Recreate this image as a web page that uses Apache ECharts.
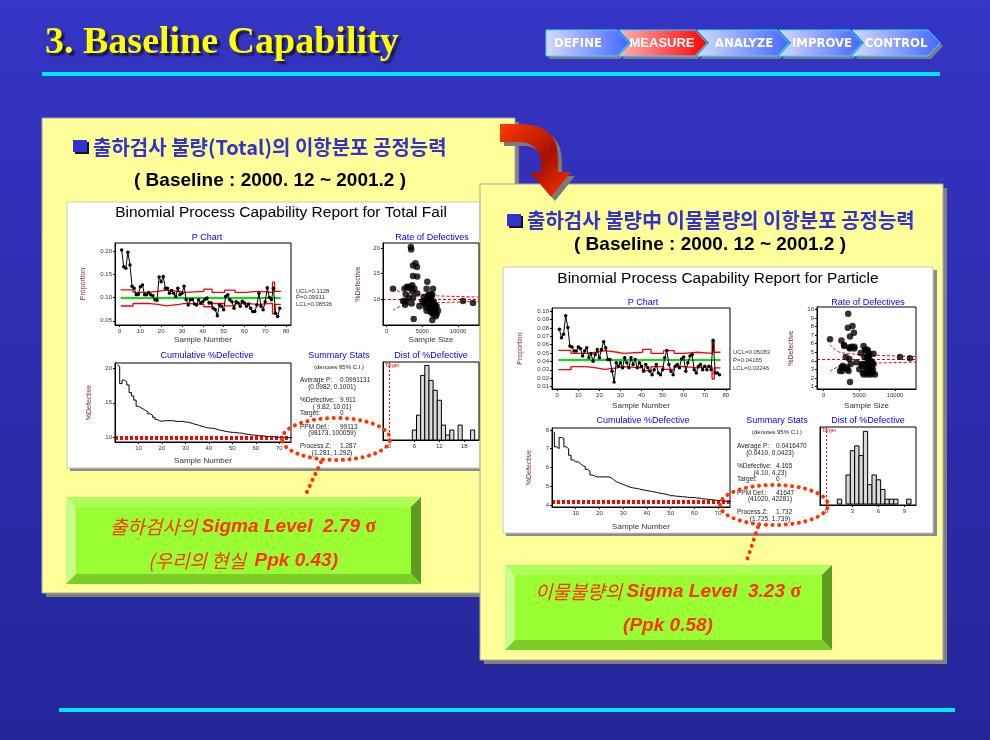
<!DOCTYPE html>
<html>
<head>
<meta charset="utf-8">
<title>3. Baseline Capability</title>
<script src="https://cdn.jsdelivr.net/npm/echarts@6/dist/echarts.min.js"></script>
<style>
  html, body { margin: 0; padding: 0; background: #2e2eb3; }
  #chart { width: 990px; height: 740px; }
</style>
</head>
<body>
<div id="chart"></div>
<script>
// ---- data (77 lots, same lot sizes) ----
const sampleSize = [
  3400, 3700, 4250, 3450, 4050, 2850, 5600, 6200, 5900, 2900,
  3600, 6300, 5800, 4300, 6100, 5200, 6600, 6400, 4300, 5700,
  3700, 2500, 3900, 6200, 3600, 5900, 3700, 6500, 6000, 6400,
  3300, 6200, 6600, 2700, 10700, 7000, 6300, 2500, 6800, 5400,
  2300, 5600, 6700, 2600, 6100, 6900, 3800, 6400, 6600, 6200,
  3100, 6000, 5300, 3500, 7200, 6000, 5800, 6500, 12100, 6200,
  6700, 4600, 6300, 7000, 6500, 5500, 2700, 6800, 6600, 5400,
  3300, 6100, 5000, 900, 6900, 6400, 5600
];

const pTotal = [
  0.202, 0.166, 0.163, 0.197, 0.170, 0.124, 0.120, 0.106, 0.107, 0.123,
  0.127, 0.106, 0.106, 0.111, 0.106, 0.104, 0.095, 0.094, 0.144, 0.134,
  0.145, 0.120, 0.120, 0.109, 0.115, 0.109, 0.102, 0.120, 0.106, 0.109,
  0.124, 0.096, 0.084, 0.095, 0.096, 0.086, 0.084, 0.095, 0.088, 0.091,
  0.096, 0.099, 0.088, 0.089, 0.077, 0.074, 0.061, 0.084, 0.081, 0.074,
  0.102, 0.106, 0.095, 0.091, 0.077, 0.091, 0.088, 0.081, 0.092, 0.088,
  0.081, 0.086, 0.077, 0.070, 0.070, 0.084, 0.109, 0.081, 0.074, 0.091,
  0.121, 0.100, 0.095, 0.120, 0.066, 0.059, 0.077
];

const pParticle = [
  0.0786, 0.0685, 0.0726, 0.0948, 0.0806, 0.0585, 0.0573, 0.0524, 0.0524, 0.0573,
  0.0556, 0.0464, 0.0524, 0.0565, 0.0444, 0.0492, 0.0403, 0.0484, 0.0544, 0.0444,
  0.0544, 0.0637, 0.0565, 0.0423, 0.0423, 0.0282, 0.0153, 0.0383, 0.0343, 0.0383,
  0.0323, 0.0444, 0.0383, 0.0323, 0.0444, 0.0363, 0.0423, 0.0323, 0.0383, 0.0343,
  0.0282, 0.0363, 0.0323, 0.0282, 0.0242, 0.0302, 0.0363, 0.0262, 0.0242, 0.0302,
  0.0444, 0.0532, 0.0363, 0.0282, 0.0242, 0.0343, 0.0363, 0.0323, 0.0430, 0.0452,
  0.0282, 0.0383, 0.0464, 0.0484, 0.0302, 0.0262, 0.0343, 0.0363, 0.0302, 0.0343,
  0.0302, 0.0343, 0.0302, 0.0653, 0.0262, 0.0262, 0.0242
];

// control limits, constant over runs of lots (last lot of each run)
const limitEnds = [6, 13, 18, 22, 28, 31, 40, 44, 50, 55, 60, 66, 73, 74, 77];
const uclTotal = [0.1164, 0.1110, 0.1130, 0.1160, 0.1130, 0.1110, 0.1130, 0.1180, 0.1110, 0.1160, 0.1110, 0.1130, 0.1110, 0.1330, 0.1130];
const lclTotal = [0.0818, 0.0872, 0.0852, 0.0822, 0.0852, 0.0872, 0.0852, 0.0802, 0.0872, 0.0822, 0.0872, 0.0852, 0.0872, 0.0652, 0.0852];
const uclParticle = [0.0533, 0.0497, 0.0510, 0.0530, 0.0510, 0.0497, 0.0510, 0.0544, 0.0497, 0.0530, 0.0497, 0.0510, 0.0497, 0.0644, 0.0510];
const lclParticle = [0.0301, 0.0337, 0.0324, 0.0304, 0.0324, 0.0337, 0.0324, 0.0290, 0.0337, 0.0304, 0.0337, 0.0324, 0.0337, 0.0190, 0.0324];
const pBarTotal = 0.09911;
const pBarParticle = 0.04165;

const cumTotal = [
  20.5, 20.3, 17.8, 18.3, 18.1, 17.6, 16.5, 16.0, 15.4, 14.5,
  14.3, 14.1, 13.9, 13.7, 13.4, 13.2, 12.9, 12.6, 12.4, 12.3,
  12.4, 12.4, 12.4, 12.4, 12.4, 12.3, 12.3, 12.3, 12.3, 12.2,
  12.2, 12.1, 12.0, 11.9, 11.8, 11.7, 11.6, 11.5, 11.4, 11.35,
  11.3, 11.3, 11.2, 11.1, 11.0, 10.95, 10.85, 10.8, 10.75, 10.7,
  10.7, 10.65, 10.6, 10.6, 10.5, 10.45, 10.4, 10.35, 10.3, 10.3,
  10.25, 10.2, 10.2, 10.15, 10.1, 10.1, 10.1, 10.05, 10.0, 10.0,
  10.0, 9.98, 9.96, 9.95, 9.93, 9.92, 9.91
];
const cumParticle = [
  7.9, 7.1, 7.0, 7.6, 7.55, 7.1, 7.0, 6.65, 6.4, 6.3,
  6.3, 6.2, 6.1, 6.05, 5.9, 5.8, 5.6, 5.55, 5.5, 5.5,
  5.5, 5.5, 5.5, 5.5, 5.45, 5.35, 5.25, 5.2, 5.15, 5.1,
  5.05, 5.0, 4.95, 4.92, 4.9, 4.88, 4.85, 4.82, 4.8, 4.77,
  4.75, 4.73, 4.7, 4.68, 4.65, 4.62, 4.6, 4.58, 4.55, 4.5,
  4.5, 4.48, 4.47, 4.46, 4.45, 4.44, 4.42, 4.41, 4.4, 4.4,
  4.38, 4.37, 4.35, 4.33, 4.32, 4.3, 4.29, 4.28, 4.26, 4.25,
  4.24, 4.22, 4.21, 4.2, 4.19, 4.18, 4.17
];
const ciTotal = [9.82, 10.01];
const ciParticle = [4.10, 4.23];

const histMidTotal = [6, 7, 8, 9, 10, 11, 12, 13, 14, 15, 16, 17, 18, 19, 20];
const histCountTotal = [2, 5, 13, 15, 12, 10, 8, 3, 1, 2, 0, 3, 0, 0, 2];
const histMidParticle = [1.5, 2, 2.5, 3, 3.5, 4, 4.5, 5, 5.5, 6, 6.5, 7, 7.5, 8, 8.5, 9, 9.5];
const histCountParticle = [1, 0, 6, 11, 12, 10, 15, 4, 6, 5, 3, 1, 1, 1, 0, 0, 1];

const rateUpperTotal = [[900, 12.2], [2000, 11.3], [3000, 11.0], [5000, 10.8], [7500, 10.6], [12900, 10.4]];
const rateLowerTotal = [[900, 7.8], [2000, 8.6], [3000, 8.9], [5000, 9.1], [7500, 9.3], [12900, 9.5]];
const rateUpperParticle = [[900, 5.9], [2000, 5.1], [3000, 4.9], [5000, 4.75], [7500, 4.65], [12900, 4.5]];
const rateLowerParticle = [[900, 2.8], [2000, 3.3], [3000, 3.5], [5000, 3.65], [7500, 3.75], [12900, 3.85]];

// tick labels
const sampleTicks = [0, 10, 20, 30, 40, 50, 60, 70, 80];
const cumSampleTicks = [10, 20, 30, 40, 50, 60, 70];
const sizeTicks = [0, 5000, 10000];
const pTicksTotal = [0.05, 0.10, 0.15, 0.20];
const pTicksParticle = [0.01, 0.02, 0.03, 0.04, 0.05, 0.06, 0.07, 0.08, 0.09, 0.10];
const rateTicksTotal = [10, 15, 20];
const rateTicksParticle = [1, 2, 3, 4, 5, 6, 7, 8, 9, 10];
const cumTicksTotal = [10, 15, 20];
const cumTicksParticle = [4, 5, 6, 7, 8];
const distTicksTotal = [0, 6, 12, 18];
const distTicksParticle = [0, 3, 6, 9];

const statsTotal = [
  ['Average P:', '0.0991131'], ['(0.0982, 0.1001)'],
  ['%Defective:', '9.911'], ['( 9.82, 10.01)'], ['Target:', '0'],
  ['PPM Def.:', '99113'], ['(98173, 100059)'],
  ['Process Z:', '1.287'], ['(1.281, 1.292)']
];
const statsParticle = [
  ['Average P:', '0.0416470'], ['(0.0410, 0.0423)'],
  ['%Defective:', '4.165'], ['(4.10, 4.23)'], ['Target:', '0'],
  ['PPM Def.:', '41647'], ['(41020, 42281)'],
  ['Process Z:', '1.732'], ['(1.725, 1.739)']
];

// ---- helpers ----
const FONT = '"Liberation Sans", Arial, sans-serif';
const KR = '"Noto Sans CJK KR", sans-serif';

function steps(ends, vals) {
  const pts = [];
  let start = 1;
  ends.forEach((end, i) => {
    pts.push([start - 0.5, vals[i]], [end + 0.5, vals[i]]);
    start = end + 1;
  });
  return pts;
}

function axis(gridIndex, min, max, ticks, fmt, name, nameGap, isY) {
  return {
    type: 'value', gridIndex: gridIndex, min: min, max: max,
    name: name || '', nameLocation: 'middle', nameGap: nameGap || 10, nameRotate: isY ? 90 : 0,
    nameTextStyle: { fontFamily: FONT, fontSize: isY ? 7 : 8, color: isY ? '#663333' : '#333333' },
    axisLine: { show: true, onZero: false, lineStyle: { color: '#000', width: 1 } },
    axisTick: { show: ticks.length > 0, length: 2, customValues: ticks, lineStyle: { color: '#000' } },
    axisLabel: { show: ticks.length > 0, customValues: ticks, formatter: fmt, fontFamily: FONT, fontSize: 6, color: '#333', margin: 3 },
    splitLine: { show: false },
    z: 6
  };
}
const f0 = v => String(Math.round(v));
const f2 = v => v.toFixed(2);

function txt(x, y, s, font, fill, align, z, extra) {
  return Object.assign({
    type: 'text', x: x, y: y, z: z || 6, silent: true,
    style: {
      text: s, font: font, fill: fill,
      textAlign: align || 'center', align: align || 'center',
      textVerticalAlign: 'middle', verticalAlign: 'middle'
    }
  }, extra || {});
}

function shadowTxt(x, y, s, font, fill, align, z, shColor, off, blur) {
  return {
    type: 'text', x: x, y: y, z: z, silent: true,
    style: {
      text: s, font: font, fill: fill,
      textAlign: align, align: align, textVerticalAlign: 'middle', verticalAlign: 'middle',
      textShadowColor: shColor, textShadowOffsetX: off, textShadowOffsetY: off, textShadowBlur: blur,
      shadowColor: shColor, shadowOffsetX: off, shadowOffsetY: off, shadowBlur: blur
    }
  };
}

function rect(x, y, w, h, fill, z, stroke) {
  return {
    type: 'rect', z: z, silent: true,
    shape: { x: x, y: y, width: w, height: h },
    style: { fill: fill, stroke: stroke || null, lineWidth: stroke ? 1 : 0 }
  };
}

function poly(points, fill, z, extra) {
  return Object.assign({ type: 'polygon', z: z, silent: true, shape: { points: points }, style: { fill: fill } }, extra || {});
}

function bevelBox(x0, y0, x1, y1, b) {
  return [
    poly([[x0 + b, y0 + b], [x1 - b, y0 + b], [x1 - b, y1 - b], [x0 + b, y1 - b]], '#99FF33', 10),
    poly([[x0, y0], [x1, y0], [x1 - b, y0 + b], [x0 + b, y0 + b]], '#AEFF5C', 10),
    poly([[x0, y0], [x0 + b, y0 + b], [x0 + b, y1 - b], [x0, y1]], '#C6FF8C', 10),
    poly([[x1, y0], [x1, y1], [x1 - b, y1 - b], [x1 - b, y0 + b]], '#5E9C20', 10),
    poly([[x0, y1], [x0 + b, y1 - b], [x1 - b, y1 - b], [x1, y1]], '#7CCC2A', 10)
  ];
}

const dotStyle = { fill: 'none', stroke: '#FF3300', lineWidth: 4, lineDash: [0.1, 6.5], lineCap: 'round' };

function stats(rows, xLabel, xValue, xCI, y0, z) {
  const offs = [0, 7, 20, 27, 33, 47, 53, 66, 73];
  const out = [];
  rows.forEach((r, i) => {
    const y = y0 + offs[i];
    if (r.length === 2) {
      out.push(txt(xLabel, y, r[0], '6.5px ' + FONT, '#222', 'left', z));
      out.push(txt(xValue, y, r[1], '6.5px ' + FONT, '#222', 'left', z));
    } else {
      out.push(txt(xCI, y, r[0], '6.5px ' + FONT, '#222', 'center', z));
    }
  });
  return out;
}

function navChevron(x0, xb, notch, label, fill, labelX, font, shadow) {
  const d = 12, yT = 30, yB = 56, yM = 43;
  const pts = [[x0, yT], [xb, yT], [xb + d, yM], [xb, yB], [x0, yB]];
  if (notch) pts.push([x0 + d, yM]);
  const sh = pts.map(p => [p[0] + 3, p[1] + 3]);
  return [
    poly(sh, '#7A7A8A', 8),
    poly(pts, fill, 9, { style: { fill: fill, stroke: '#33DDFF', lineWidth: 1 } }),
    shadow ? shadowTxt(labelX, yM, label, font, '#FFFFFF', 'center', 9, '#000', 1.5, 0)
           : txt(labelX, yM + 1, label, font, '#FFFFFF', 'center', 9)
  ];
}

const blueGrad = new echarts.graphic.LinearGradient(0, 0, 1, 0, [
  { offset: 0, color: '#D6DAFF' }, { offset: 1, color: '#4466FF' }
]);
const redGrad = new echarts.graphic.LinearGradient(0, 0, 1, 0, [
  { offset: 0, color: '#FFB4B4' }, { offset: 1, color: '#FF0000' }
]);
const navFont = 'bold 13px "DejaVu Sans Condensed", "DejaVu Sans", sans-serif';

// ---- series for one report (grids k*4 .. k*4+3) ----
function reportSeries(k, d) {
  const g = k * 4;
  const at = i => ({ xAxisIndex: g + i, yAxisIndex: g + i });
  const histData = d.histMid.map((m, i) => [m, d.histCount[i]]).filter(v => v[1] > 0);
  return [
    Object.assign({ type: 'line', data: steps(limitEnds, d.ucl), symbol: 'none', lineStyle: { color: '#FF0000', width: 1.3 }, z: 7 }, at(0)),
    Object.assign({ type: 'line', data: steps(limitEnds, d.lcl), symbol: 'none', lineStyle: { color: '#FF0000', width: 1.3 }, z: 7 }, at(0)),
    Object.assign({ type: 'line', data: [[0.5, d.pBar], [77.5, d.pBar]], symbol: 'none', lineStyle: { color: '#00E600', width: 2 }, z: 7 }, at(0)),
    Object.assign({
      type: 'line', data: d.p.map((v, i) => [i + 1, v]), symbol: 'circle', symbolSize: 3.5,
      itemStyle: { color: '#000' }, lineStyle: { color: '#000', width: 1 }, z: 8
    }, at(0)),
    Object.assign({
      type: 'scatter', data: sampleSize.map((n, i) => [n, d.p[i] * 100]), symbolSize: 6.5,
      itemStyle: { color: '#000' }, z: 8,
      markLine: {
        silent: true, symbol: 'none', label: { show: false }, animation: false,
        lineStyle: { color: '#FF0000', type: [3, 2], width: 1 }, data: [{ yAxis: d.pBar * 100 }]
      }
    }, at(1)),
    Object.assign({ type: 'line', data: d.rateUpper, smooth: true, symbol: 'none', lineStyle: { color: '#FF0000', type: [3, 2], width: 1 }, z: 7 }, at(1)),
    Object.assign({ type: 'line', data: d.rateLower, smooth: true, symbol: 'none', lineStyle: { color: '#FF0000', type: [3, 2], width: 1 }, z: 7 }, at(1)),
    Object.assign({
      type: 'line', data: d.cum.map((v, i) => [i + 1, v]), step: 'start', symbol: 'none',
      lineStyle: { color: '#000', width: 1 }, z: 8,
      markLine: {
        silent: true, symbol: 'none', label: { show: false }, animation: false,
        lineStyle: { color: '#FF0000', type: [3, 2], width: 2.2 }, data: d.ci.map(v => ({ yAxis: v }))
      }
    }, at(2)),
    Object.assign({
      type: 'custom', data: histData, z: 8,
      renderItem: (params, api) => {
        const m = api.value(0), c = api.value(1);
        const a = api.coord([m - d.binWidth / 2, c]);
        const b = api.coord([m + d.binWidth / 2, 0]);
        return {
          type: 'rect',
          shape: { x: a[0], y: a[1], width: b[0] - a[0], height: b[1] - a[1] },
          style: { fill: '#D9D9D9', stroke: '#000', lineWidth: 1 }
        };
      }
    }, at(3)),
    Object.assign({
      type: 'line', data: [[0, d.histRange[0]], [0, d.histRange[1]]], symbol: 'none',
      lineStyle: { color: '#FF0000', type: [2, 2], width: 1 }, z: 8
    }, at(3))
  ];
}

const total = {
  p: pTotal, ucl: uclTotal, lcl: lclTotal, pBar: pBarTotal, cum: cumTotal, ci: ciTotal,
  rateUpper: rateUpperTotal, rateLower: rateLowerTotal,
  histMid: histMidTotal, histCount: histCountTotal, binWidth: 1, histRange: [0, 15.7]
};
const particle = {
  p: pParticle, ucl: uclParticle, lcl: lclParticle, pBar: pBarParticle, cum: cumParticle, ci: ciParticle,
  rateUpper: rateUpperParticle, rateLower: rateLowerParticle,
  histMid: histMidParticle, histCount: histCountParticle, binWidth: 0.5, histRange: [-0.2, 15.9]
};

const gridBox = (left, top, width, height) => ({
  left: left, top: top, width: width, height: height, show: true,
  borderColor: '#000', borderWidth: 1, backgroundColor: 'transparent', z: 5,
  containLabel: false, outerBoundsMode: 'none'
});

// ---- slide decoration ----
const bgGrad = new echarts.graphic.LinearGradient(0, 0, 0, 1, [
  { offset: 0, color: '#3535C6' }, { offset: 1, color: '#252598' }
]);
const arrowGrad = new echarts.graphic.LinearGradient(0, 0, 1, 1, [
  { offset: 0, color: '#FF3A00' }, { offset: 0.55, color: '#A81000' }, { offset: 1, color: '#FF3300' }
]);
const arrowPts = [
  [500, 124], [522, 124], [534, 125.5], [544, 129], [551, 135], [555.5, 142], [557.5, 151], [558, 162],
  [558, 172], [571, 172], [551, 197], [530, 172], [541, 172], [541, 164], [540, 156], [537, 150],
  [532, 145.5], [527, 143], [522, 142], [500, 142]
];

const TITLE_FONT = 'bold 38px "Liberation Serif", "DejaVu Serif", serif';
const HEAD_FONT = 'bold 20px ' + KR;
const REPORT_FONT = '15.5px ' + FONT;

const graphics = [].concat(
  [rect(0, 0, 990, 740, bgGrad, 0)],
  [shadowTxt(45, 43, '3. Baseline Capability', TITLE_FONT, '#FFFF00', 'left', 9, '#15154A', 3, 2)],
  navChevron(546, 617, false, 'DEFINE', blueGrad, 578, navFont),
  navChevron(619, 695, true, 'MEASURE', redGrad, 662, 'bold 13px ' + FONT, true),
  navChevron(697, 777, true, 'ANALYZE', blueGrad, 744, navFont),
  navChevron(779, 850, true, 'IMPROVE', blueGrad, 822, navFont),
  navChevron(852, 928, true, 'CONTROL', blueGrad, 896, navFont),
  [rect(42, 72, 898, 4, '#00E8FF', 1), rect(59, 708, 896, 4, '#00E8FF', 1)],
  // left panel
  [rect(46, 122, 473, 475, '#808080', 1), rect(42, 118, 473, 475, '#FFFF99', 1, '#A8A8A8')],
  [rect(70, 205, 413, 266, '#8C8C8C', 2), rect(67, 202, 413, 266, '#FFFFFF', 2, '#C8C8C8')],
  [
    rect(75, 142, 14, 12, '#111133', 2), rect(73, 140, 14, 12, '#3333CC', 2),
    shadowTxt(93, 147, '출하검사 불량(Total)의 이항분포 공정능력', HEAD_FONT, '#3333CC', 'left', 2, 'rgba(120,120,120,0.6)', 1, 0),
    shadowTxt(270, 181, '( Baseline : 2000. 12 ~ 2001.2 )', 'bold 19px ' + FONT, '#000', 'center', 2, 'rgba(255,255,255,0.8)', 1, 0)
  ],
  // right panel
  [rect(484, 188, 463, 476, '#808080', 3), rect(480, 184, 463, 476, '#FFFF99', 3, '#A8A8A8')],
  [rect(506, 270, 431, 266, '#8C8C8C', 4), rect(503, 267, 430, 266, '#FFFFFF', 4, '#C8C8C8')],
  [
    rect(509, 216, 14, 12, '#111133', 4), rect(507, 214, 14, 12, '#3333CC', 4),
    shadowTxt(527, 220, '출하검사 불량中 이물불량의 이항분포 공정능력', HEAD_FONT, '#3333CC', 'left', 4, 'rgba(120,120,120,0.6)', 1, 0),
    shadowTxt(710, 245, '( Baseline : 2000. 12 ~ 2001.2 )', 'bold 19px ' + FONT, '#000', 'center', 4, 'rgba(255,255,255,0.8)', 1, 0)
  ],
  // arrow between the panels
  [
    poly(arrowPts.map(p => [p[0] + 4, p[1] + 4]), '#7A7A7A', 9),
    poly(arrowPts, arrowGrad, 9)
  ],
  // report titles, panel titles, limit labels
  [
    txt(281, 213, 'Binomial Process Capability Report for Total Fail', REPORT_FONT, '#000'),
    txt(207, 238, 'P Chart', '9px ' + FONT, '#0000FF'),
    txt(432, 238, 'Rate of Defectives', '9px ' + FONT, '#0000FF'),
    txt(207, 356, 'Cumulative %Defective', '9px ' + FONT, '#0000FF'),
    txt(339, 356, 'Summary Stats', '9px ' + FONT, '#0000FF'),
    txt(431, 356, 'Dist of %Defective', '9px ' + FONT, '#0000FF'),
    txt(339, 367, '(denotes 95% C.I.)', '6px ' + FONT, '#222'),
    txt(296, 291, 'UCL=0.1128', '6px ' + FONT, '#333', 'left'),
    txt(296, 297, 'P\u0304=0.09911', '6px ' + FONT, '#333', 'left'),
    txt(296, 304, 'LCL=0.08536', '6px ' + FONT, '#333', 'left'),
    txt(385, 366, 'Target', '5px ' + FONT, '#FF0000', 'left'),

    txt(718, 279, 'Binomial Process Capability Report for Particle', REPORT_FONT, '#000'),
    txt(643, 303, 'P Chart', '9px ' + FONT, '#0000FF'),
    txt(868, 303, 'Rate of Defectives', '9px ' + FONT, '#0000FF'),
    txt(643, 421, 'Cumulative %Defective', '9px ' + FONT, '#0000FF'),
    txt(777, 421, 'Summary Stats', '9px ' + FONT, '#0000FF'),
    txt(868, 421, 'Dist of %Defective', '9px ' + FONT, '#0000FF'),
    txt(777, 432, '(denotes 95% C.I.)', '6px ' + FONT, '#222'),
    txt(733, 352, 'UCL=0.05083', '6px ' + FONT, '#333', 'left'),
    txt(733, 360, 'P\u0304=0.04165', '6px ' + FONT, '#333', 'left'),
    txt(733, 368, 'LCL=0.03246', '6px ' + FONT, '#333', 'left'),
    txt(822, 431, 'Target', '5px ' + FONT, '#FF0000', 'left')
  ],
  stats(statsTotal, 300, 340, 332, 380, 6),
  stats(statsParticle, 737, 776, 770, 446, 6),
  // highlight ellipses and connectors
  [
    { type: 'ellipse', z: 10, silent: true, shape: { cx: 336, cy: 439, rx: 54, ry: 21 }, style: dotStyle },
    { type: 'line', z: 10, silent: true, shape: { x1: 321, y1: 462, x2: 306, y2: 494 }, style: dotStyle },
    { type: 'ellipse', z: 10, silent: true, shape: { cx: 774, cy: 505, rx: 54, ry: 20 }, style: dotStyle },
    { type: 'line', z: 10, silent: true, shape: { x1: 758, y1: 527, x2: 746, y2: 563 }, style: dotStyle }
  ],
  // green result boxes
  bevelBox(66, 497, 421, 584, 10),
  bevelBox(505, 565, 832, 650, 10),
  [
    {
      type: 'text', x: 243, y: 527, z: 11, silent: true,
      style: {
        text: '{k|출하검사의 }{b|Sigma Level  2.79 }{s|σ}', textAlign: 'center', align: 'center',
        textVerticalAlign: 'middle', verticalAlign: 'middle',
        rich: {
          k: { font: 'italic 19px ' + KR, fill: '#FF3300' },
          b: { font: 'italic bold 19px ' + FONT, fill: '#FF3300' },
          s: { font: 'bold 20px "Liberation Serif", serif', fill: '#FF3300' }
        }
      }
    },
    {
      type: 'text', x: 243, y: 561, z: 11, silent: true,
      style: {
        text: '{k|(우리의 현실  }{b|Ppk 0.43)}', textAlign: 'center', align: 'center',
        textVerticalAlign: 'middle', verticalAlign: 'middle',
        rich: {
          k: { font: 'italic 19px ' + KR, fill: '#FF3300' },
          b: { font: 'italic bold 19px ' + FONT, fill: '#FF3300' }
        }
      }
    },
    {
      type: 'text', x: 668, y: 592, z: 11, silent: true,
      style: {
        text: '{k|이물불량의 }{b|Sigma Level  3.23 }{s|σ}', textAlign: 'center', align: 'center',
        textVerticalAlign: 'middle', verticalAlign: 'middle',
        rich: {
          k: { font: 'italic 19px ' + KR, fill: '#FF3300' },
          b: { font: 'italic bold 19px ' + FONT, fill: '#FF3300' },
          s: { font: 'bold 20px "Liberation Serif", serif', fill: '#FF3300' }
        }
      }
    },
    {
      type: 'text', x: 668, y: 626, z: 11, silent: true,
      style: {
        text: '{b|(Ppk 0.58)}', textAlign: 'center', align: 'center',
        textVerticalAlign: 'middle', verticalAlign: 'middle',
        rich: { b: { font: 'italic bold 19px ' + FONT, fill: '#FF3300' } }
      }
    }
  ]
);

const option = {
  animation: false,
  graphic: { elements: graphics },
  grid: [
    gridBox(115, 243, 176, 82),
    gridBox(383, 243, 96, 82),
    gridBox(115, 363, 176, 79),
    gridBox(383, 362, 96, 78),
    gridBox(552, 308, 178, 81),
    gridBox(817, 307, 99, 82),
    gridBox(552, 428, 178, 79),
    gridBox(820, 427, 96, 78)
  ],
  xAxis: [
    axis(0, -2.2, 82.4, sampleTicks, f0, 'Sample Number', 11),
    axis(1, -500, 12940, sizeTicks, f0, 'Sample Size', 11),
    axis(2, 0, 75, cumSampleTicks, f0, 'Sample Number', 15),
    axis(3, -1.56, 21.54, distTicksTotal, f0),
    axis(4, -2.5, 82, sampleTicks, f0, 'Sample Number', 13),
    axis(5, -920, 12940, sizeTicks, f0, 'Sample Size', 13),
    axis(6, 0, 75, cumSampleTicks, f0, 'Sample Number', 16),
    axis(7, -0.75, 10.33, distTicksParticle, f0)
  ],
  yAxis: [
    axis(0, 0.041, 0.217, pTicksTotal, f2, 'Proportion', 28, true),
    axis(1, 4.9, 21, rateTicksTotal, f0, '%Defective', 21, true),
    axis(2, 9.3, 20.8, cumTicksTotal, f0, '%Defective', 22, true),
    axis(3, 0, 15.7, [], null, '', 10, true),
    axis(4, 0.007, 0.104, pTicksParticle, f2, 'Proportion', 28, true),
    axis(5, 0.73, 10.27, rateTicksParticle, f0, '%Defective', 22, true),
    axis(6, 3.9, 8.1, cumTicksParticle, f0, '%Defective', 19, true),
    axis(7, -0.2, 15.9, [], null, '', 10, true)
  ],
  series: [].concat(reportSeries(0, total), reportSeries(1, particle))
};

const chart = echarts.init(document.getElementById('chart'));
chart.setOption(option);
</script>
</body>
</html>
